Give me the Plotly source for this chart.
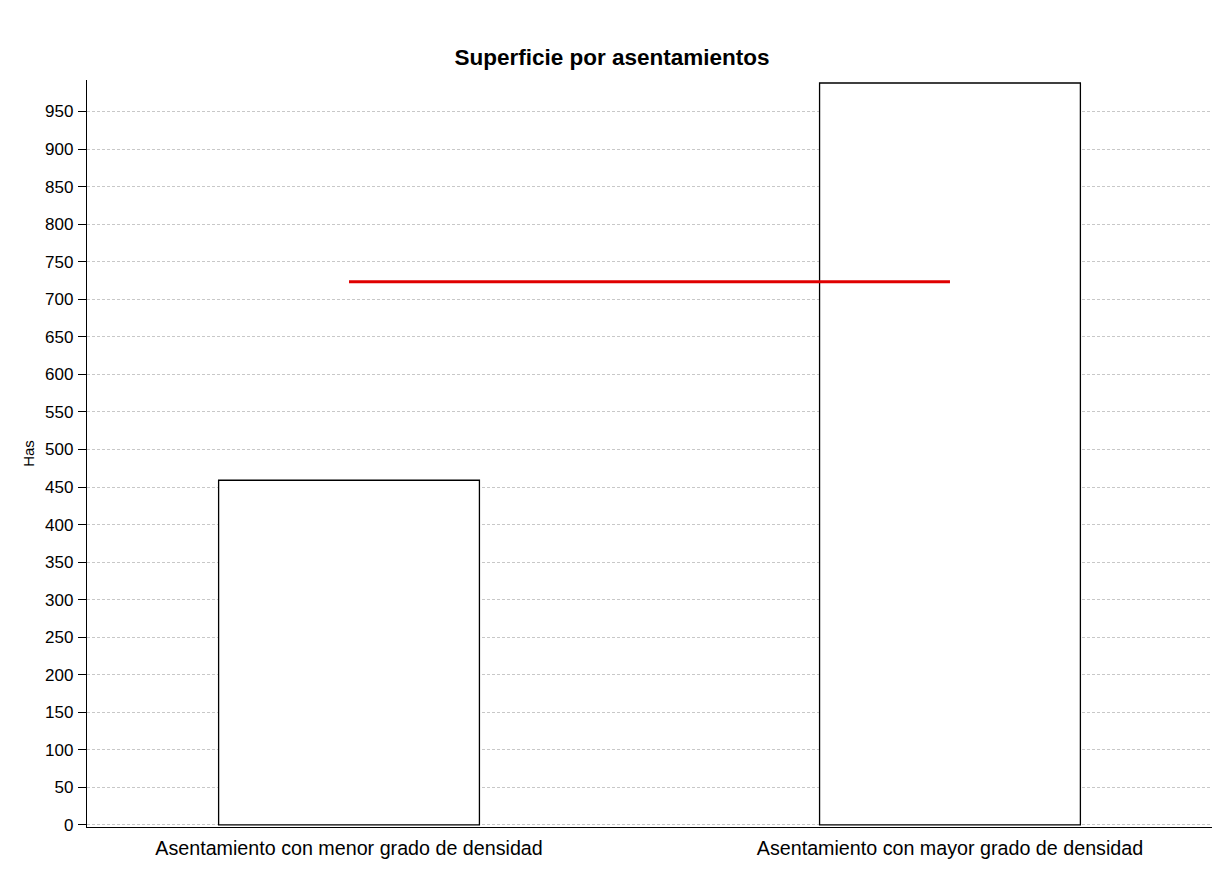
import plotly.graph_objects as go

categorias = ["Asentamiento con menor grado de densidad", "Asentamiento con mayor grado de densidad"]
superficie = [459, 988]
promedio = [723.5, 723.5]
ticks_y = list(range(0, 1000, 50))

fig = go.Figure()
fig.add_trace(go.Bar(
    x=categorias, y=superficie, width=0.434,
    marker=dict(color="white", line=dict(color="black", width=1.3)),
    showlegend=False, hoverinfo="skip",
))
fig.add_trace(go.Scatter(
    x=categorias, y=promedio, mode="lines",
    line=dict(color="#e00000", width=3), showlegend=False,
))

fig.update_layout(
    width=1214, height=892,
    paper_bgcolor="white", plot_bgcolor="white",
    margin=dict(l=87, r=2, t=80, b=65),
    font=dict(family="Liberation Sans, Arial, sans-serif", color="black", size=17),
    title=dict(text="<b>Superficie por asentamientos</b>", x=612/1214, xref="container",
               xanchor="center",
               y=1 - 57/892, yref="container", yanchor="middle",
               font=dict(size=22.5, family="Liberation Sans, Arial, sans-serif")),
)
fig.update_xaxes(
    type="category", range=[-0.436, 1.436],
    showline=True, linecolor="black", linewidth=1.3,
    ticks="", showgrid=False, tickfont=dict(size=19.7), ticklabelstandoff=3,
)
fig.update_yaxes(
    range=[-2.7, 992], tickvals=ticks_y,
    showline=True, linecolor="black", linewidth=1.3,
    ticks="outside", ticklen=8, tickcolor="black", tickwidth=1,
    showgrid=True, gridcolor="#c8c8c8", griddash="3px,2px", gridwidth=1,
    zeroline=False, tickfont=dict(size=17), ticklabelstandoff=1,
    title=dict(text="Has", font=dict(size=15), standoff=6),
)
fig.write_html("out.html", config={"displayModeBar": False},
               post_script="document.body.style.margin='0';")
